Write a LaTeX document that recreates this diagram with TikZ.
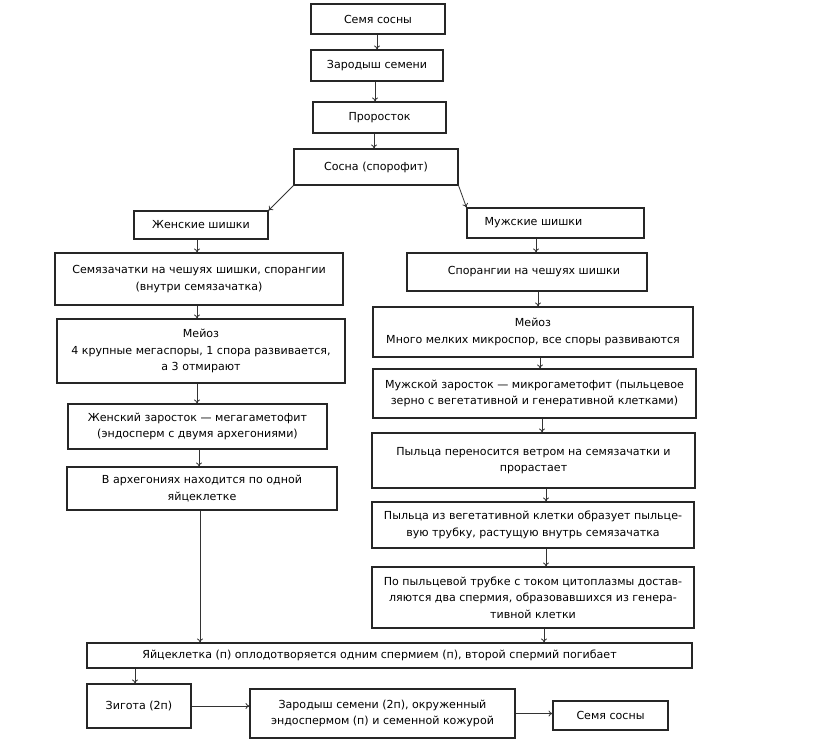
\documentclass[tikz,border=0pt]{standalone}
\usepackage{fontspec}
\setmainfont{DejaVu Sans}
\usetikzlibrary{arrows.meta,calc}
\tikzset{
  box/.style={draw=black!85, line width=0.8pt, inner sep=0pt, align=center,
    font=\fontsize{8.3}{12.4}\selectfont, anchor=center},
  arr/.style={-{To[length=3pt,width=4.5pt]}, line width=0.6pt, draw=black!80},
}
\newcommand{\bx}[6]{\node[box, minimum width={(#4-#2)*0.75pt}, minimum height={(#5-#3)*0.75pt}] (#1) at ({(#2+#4)/2},{(#3+#5)/2}) {#6};}
\newcommand{\varr}[3]{\path (#1,0) coordinate (tmpx); \draw[arr] (#2.south -| tmpx) -- (#3.north -| tmpx);}
\begin{document}
\begin{tikzpicture}[x=0.75pt,y=-0.75pt]
\useasboundingbox[fill=white] (0,0) rectangle (816,752);
\bx{b1}{311}{4}{445}{34}{Семя сосны}
\bx{b2}{311}{50}{443}{81}{Зародыш семени}
\bx{b3}{313}{102}{446}{133}{Проросток}
\bx{b4}{294}{149}{458}{185}{Сосна (спорофит)}
\bx{f1}{134}{211}{268}{239}{Женские шишки}
\bx{f2}{55}{253}{343}{305}{Семязачатки на чешуях шишки, спорангии\\(внутри семязачатка)}
\bx{f3}{57}{319}{345}{383}{Мейоз\\4 крупные мегаспоры, 1 спора развивается,\\а 3 отмирают}
\bx{f4}{68}{404}{327}{449}{Женский заросток — мегагаметофит\\(эндосперм с двумя архегониями)}
\bx{f5}{67}{467}{337}{510}{В архегониях находится по одной\\яйцеклетке}
\bx{m1}{467}{208}{644}{238}{Мужские шишки\hspace*{33pt}}
\bx{m2}{407}{253}{647}{291}{\hspace*{10.5pt}Спорангии на чешуях шишки}
\bx{m3}{373}{307}{693}{357}{Мейоз\\Много мелких микроспор, все споры развиваются}
\bx{m4}{373}{369}{696}{418}{Мужской заросток — микрогаметофит (пыльцевое\\зерно с вегетативной и генеративной клетками)}
\bx{m5}{372}{433}{695}{488}{Пыльца переносится ветром на семязачатки и\\прорастает}
\bx{m6}{372}{502}{694}{548}{Пыльца из вегетативной клетки образует пыльце-\\вую трубку, растущую внутрь семязачатка}
\bx{m7}{372}{567}{694}{628}{По пыльцевой трубке с током цитоплазмы достав-\\ляются два спермия, образовавшихся из генера-\\тивной клетки}
\bx{y1}{87}{643}{692}{668}{Яйцеклетка (п) оплодотворяется одним спермием (п), второй спермий погибает\hspace*{15pt}}
\bx{z1}{87}{684}{191}{728}{Зигота (2п)}
\bx{z2}{250}{689}{515}{738}{Зародыш семени (2п), окруженный\\эндоспермом (п) и семенной кожурой}
\bx{z3}{553}{701}{668}{730}{Семя сосны}
\varr{377}{b1}{b2}
\varr{375}{b2}{b3}
\varr{374}{b3}{b4}
\draw[arr] (b4.south west) -- (f1.north east);
\draw[arr] (b4.south east) -- (m1.north west);
\varr{197}{f1}{f2}
\varr{197}{f2}{f3}
\varr{197}{f3}{f4}
\varr{199}{f4}{f5}
\varr{200}{f5}{y1}
\varr{536}{m1}{m2}
\varr{538}{m2}{m3}
\varr{540}{m3}{m4}
\varr{542}{m4}{m5}
\varr{546}{m5}{m6}
\varr{546}{m6}{m7}
\varr{544}{m7}{y1}
\varr{135}{y1}{z1}
\draw[arr] (z1.east) -- (z2.west |- z1.east);
\draw[arr] (z2.east) -- (z3.west |- z2.east);
\end{tikzpicture}
\end{document}
